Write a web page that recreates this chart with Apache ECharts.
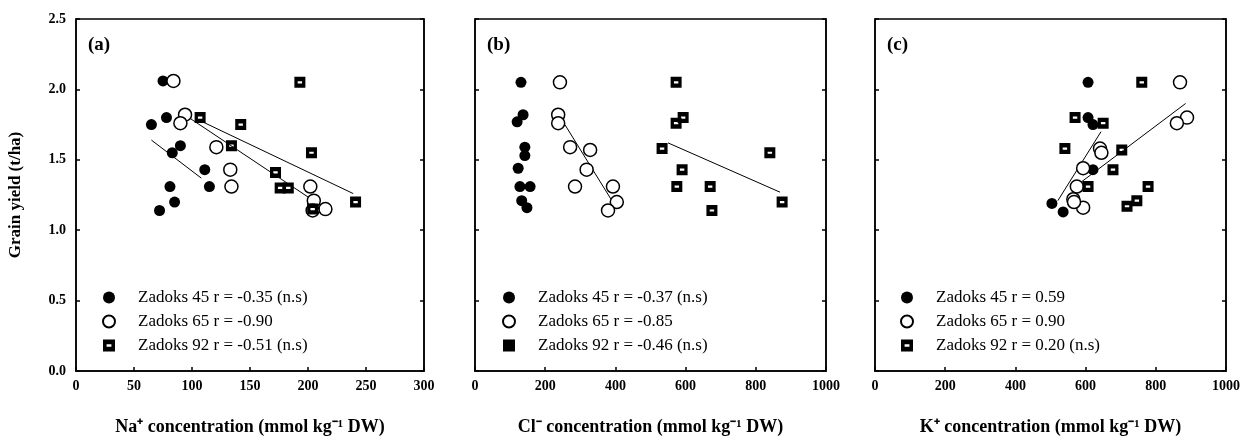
<!DOCTYPE html>
<html><head><meta charset="utf-8">
<script src="https://cdn.jsdelivr.net/npm/echarts@6/dist/echarts.min.js"></script>
<style>html,body{margin:0;padding:0;background:#fff}#c{width:1246px;height:440px}</style>
</head><body><div id="c"></div>
<script>
// ---------- data ----------
const panelLabels = ['(a)', '(b)', '(c)'];
const xNames = ['Na\u207A concentration (mmol kg\u207B\u00B9 DW)', 'Cl\u207B concentration (mmol kg\u207B\u00B9 DW)', 'K\u207A concentration (mmol kg\u207B\u00B9 DW)'];
const yName = 'Grain yield (t/ha)';
const xMax = [300, 1000, 1000];
const xStep = [50, 200, 200];
const yMax = 2.5, yStep = 0.5;
const stageNames = ['Zadoks 45', 'Zadoks 65', 'Zadoks 92'];
const rNa = ['r = -0.35 (n.s)', 'r = -0.90', 'r = -0.51 (n.s)'];
const rCl = ['r = -0.37 (n.s)', 'r = -0.85', 'r = -0.46 (n.s)'];
const rK  = ['r = 0.59', 'r = 0.90', 'r = 0.20 (n.s)'];

// (a) Na+
const naZ45 = [[75,2.06],[78,1.80],[65,1.75],[90,1.60],[83,1.55],[111,1.43],[115,1.31],[81,1.31],[85,1.20],[72,1.14]];
const naZ65 = [[84,2.06],[94,1.82],[90,1.76],[121,1.59],[133,1.43],[134,1.31],[202,1.31],[205,1.21],[215,1.15],[204,1.14]];
const naZ92 = [[107,1.80],[142,1.75],[134,1.60],[193,2.05],[203,1.55],[172,1.41],[176,1.30],[183,1.30],[204,1.15],[241,1.20]];
const naFit45 = [[65,1.64],[108,1.37]];
const naFit65 = [[90,1.84],[212,1.17]];
const naFit92 = [[109,1.77],[239,1.26]];

// (b) Cl-
const clZ45 = [[131,2.05],[137,1.82],[120,1.77],[142,1.59],[142,1.53],[123,1.44],[128,1.31],[157,1.31],[133,1.21],[148,1.16]];
const clZ65 = [[242,2.05],[237,1.82],[237,1.76],[271,1.59],[328,1.57],[318,1.43],[285,1.31],[393,1.31],[404,1.20],[379,1.14]];
const clZ92 = [[573,2.05],[593,1.80],[573,1.76],[533,1.58],[840,1.55],[590,1.43],[575,1.31],[670,1.31],[675,1.14],[875,1.20]];
const clFit65 = [[256,1.75],[390,1.21]];
const clFit92 = [[550,1.62],[869,1.27]];

// (c) K+
const kZ45 = [[607,2.05],[607,1.80],[621,1.75],[621,1.43],[504,1.19],[536,1.13],[641,1.58],[565,1.22],[593,1.16],[593,1.44]];
const kZ65 = [[869,2.05],[889,1.80],[860,1.76],[641,1.58],[645,1.55],[593,1.44],[575,1.31],[565,1.22],[593,1.16],[567,1.20]];
const kZ92 = [[760,2.05],[570,1.80],[650,1.76],[541,1.58],[703,1.57],[678,1.43],[607,1.31],[778,1.31],[746,1.21],[718,1.17]];
const kFit45 = [[521,1.21],[644,1.70]];
const kFit65 = [[565,1.30],[885,1.90]];

// ---------- layout ----------
const gridLeft = [76, 475, 875];
const gridW = [348, 351, 351];
const legendLeft = [102, 502, 900];
const serif = 'Liberation Serif';
const squarePath = 'path://M0,0L10,0L10,10L0,10Z M3,4L3,6L7,6L7,4Z';

const panels = [
  {z45: naZ45, z65: naZ65, z92: naZ92, fits: [naFit45, naFit65, naFit92], r: rNa},
  {z45: clZ45, z65: clZ65, z92: clZ92, fits: [clFit65, clFit92], r: rCl},
  {z45: kZ45, z65: kZ65, z92: kZ92, fits: [kFit45, kFit65], r: rK}
];

const grid = [], xAxis = [], yAxis = [], series = [], legend = [], title = [];
panels.forEach((p, i) => {
  grid.push({left: gridLeft[i], top: 19, width: gridW[i], height: 352, show: true,
    borderColor: '#000', borderWidth: 1.5, backgroundColor: 'transparent', containLabel: false, outerBoundsMode: 'none'});
  xAxis.push({type: 'value', gridIndex: i, min: 0, max: xMax[i], interval: xStep[i],
    axisLine: {lineStyle: {color: '#000', width: 1.5}},
    axisTick: {inside: true, length: 4, lineStyle: {color: '#000', width: 1.5}},
    axisLabel: {color: '#000', fontFamily: serif, fontWeight: 'bold', fontSize: 14, margin: 8,
      formatter: v => String(v)},
    splitLine: {show: false},
    name: xNames[i], nameLocation: 'middle', nameGap: 47,
    nameTextStyle: {color: '#000', fontFamily: serif, fontWeight: 'bold', fontSize: 18}});
  yAxis.push({type: 'value', gridIndex: i, min: 0, max: yMax, interval: yStep, position: 'left',
    axisLine: {show: true, lineStyle: {color: '#000', width: 1.5}},
    axisTick: {show: true, inside: true, length: 4, lineStyle: {color: '#000', width: 1.5}},
    axisLabel: {show: i === 0, color: '#000', fontFamily: serif, fontWeight: 'bold', fontSize: 14, margin: 10,
      formatter: v => v.toFixed(1)},
    splitLine: {show: false},
    name: i === 0 ? yName : '', nameLocation: 'middle', nameGap: 52,
    nameTextStyle: {color: '#000', fontFamily: serif, fontWeight: 'bold', fontSize: 17}});
  yAxis.push({type: 'value', gridIndex: i, min: 0, max: yMax, interval: yStep, position: 'right',
    axisLine: {show: true, lineStyle: {color: '#000', width: 1.5}},
    axisTick: {show: true, inside: true, length: 4, lineStyle: {color: '#000', width: 1.5}},
    axisLabel: {show: false}, splitLine: {show: false}});
  const yIdx = i * 2;
  const names = stageNames.map((s, k) => s + ' ' + p.r[k]);
  p.fits.forEach((f, k) => series.push({type: 'line', name: 'fit' + i + '_' + k, xAxisIndex: i, yAxisIndex: yIdx,
    data: f, symbol: 'none', lineStyle: {color: '#000', width: 1}, z: 1, silent: true}));
  series.push({type: 'scatter', name: names[0], xAxisIndex: i, yAxisIndex: yIdx, data: p.z45,
    symbol: 'circle', symbolSize: 11, itemStyle: {color: '#000', opacity: 1}, z: 2});
  series.push({type: 'scatter', name: names[1], xAxisIndex: i, yAxisIndex: yIdx, data: p.z65,
    symbol: 'circle', symbolSize: 13, itemStyle: {color: '#fff', borderColor: '#000', borderWidth: 1.5, opacity: 1}, z: 3});
  series.push({type: 'scatter', name: names[2], xAxisIndex: i, yAxisIndex: yIdx, data: p.z92,
    symbol: squarePath, symbolSize: 11, itemStyle: {color: '#000', opacity: 1}, z: 4});
  legend.push({orient: 'vertical', left: legendLeft[i], top: 289, itemWidth: 12, itemHeight: 12, itemGap: 7,
    selectedMode: false, padding: 0,
    data: [{name: names[0], icon: 'circle'}, {name: names[1], icon: 'circle'},
           {name: names[2], icon: i === 1 ? 'rect' : squarePath}],
    textStyle: {color: '#000', fontFamily: serif, fontSize: 17, lineHeight: 14, padding: [0, 0, 0, 18]}});
  title.push({text: panelLabels[i], left: gridLeft[i] + 12, top: 36, padding: 0,
    textStyle: {color: '#000', fontFamily: serif, fontWeight: 'bold', fontSize: 19}});
});

const chart = echarts.init(document.getElementById('c'), null, {renderer: 'canvas'});
chart.setOption({animation: false, backgroundColor: '#fff', title, grid, xAxis, yAxis, legend, series});
</script></body></html>
